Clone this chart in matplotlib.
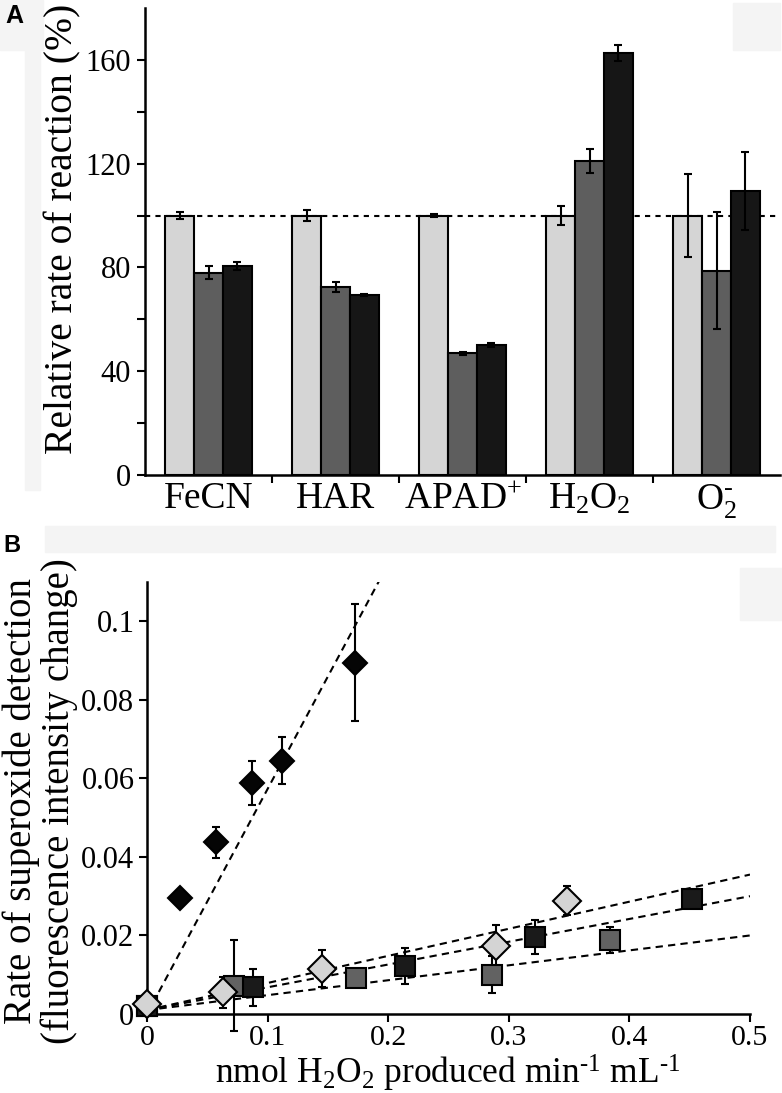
import numpy as np
import matplotlib.pyplot as plt
from matplotlib.patches import Rectangle

plt.rcParams['font.family'] = ['Liberation Serif', 'DejaVu Serif']
plt.rcParams['mathtext.fontset'] = 'custom'
plt.rcParams['mathtext.rm'] = 'Liberation Serif'
plt.rcParams['mathtext.it'] = 'Liberation Serif:italic'
plt.rcParams['mathtext.default'] = 'regular'

# ---- panel A data (relative rate, %) ----
substrates = ['FeCN', 'HAR', r'APAD$^{+}$', r'H$_2$O$_2$', r'O$_2^{\text{-}}$']
rate_light = [100, 100, 100, 100, 100]
err_light = [1.3, 2.0, 0.5, 3.7, 16.0]
rate_dark = [78.0, 72.6, 46.9, 121.1, 78.8]
err_dark = [2.6, 1.9, 0.5, 4.7, 22.5]
rate_black = [80.7, 69.3, 50.1, 162.6, 109.6]
err_black = [1.5, 0.4, 0.6, 3.0, 15.0]

# ---- panel B data ----
diam_black_x = [0.027, 0.057, 0.087, 0.112, 0.1726]
diam_black_y = [0.0295, 0.0437, 0.0589, 0.0645, 0.0895]
diam_black_err = [0.0, 0.004, 0.0056, 0.006, 0.015]

diam_light_x = [0.0, 0.063, 0.145, 0.289, 0.3485]
diam_light_y = [0.0025, 0.0055, 0.0115, 0.0172, 0.0289]
diam_light_err = [0.001, 0.004, 0.0047, 0.0055, 0.0038]

sq_gray_x = [0.0, 0.072, 0.1737, 0.2863, 0.384]
sq_gray_y = [0.002, 0.0072, 0.0092, 0.0100, 0.0189]
sq_gray_err = [0.001, 0.0116, 0.001, 0.0047, 0.0033]

sq_black_x = [0.0, 0.0877, 0.214, 0.322, 0.452]
sq_black_y = [0.002, 0.0068, 0.0122, 0.0197, 0.0293]
sq_black_err = [0.001, 0.0047, 0.0045, 0.0043, 0.0015]

# linear trend lines: black diamonds, light diamonds, black squares, gray squares
fit_slope = [0.573, 0.069, 0.058, 0.038]
fit_icept = [0.0, 0.001, 0.001, 0.001]
fit_xmax = [0.2, 0.5, 0.5, 0.5]

W, H = 782, 1093
fig = plt.figure(figsize=(W / 100, H / 100), dpi=100)

# faint grey patches from the scanned figure
for (x0, y0, x1, y1) in [(0, 0, 43, 50), (25, 50, 40, 490), (733, 3, 780, 50),
                         (45, 526, 775, 552), (740, 568, 782, 620)]:
    fig.patches.append(Rectangle((x0 / W, 1 - y1 / H), (x1 - x0) / W, (y1 - y0) / H,
                                 transform=fig.transFigure, color='#f4f4f4', zorder=0))

# ---------------- panel A ----------------
axA = fig.add_axes([145 / W, 1 - 475 / H, (780 - 145) / W, (475 - 8) / H])
x = np.arange(len(substrates)) + 0.5
bw = 0.226
ek = dict(ecolor='black', capsize=2.8, error_kw=dict(elinewidth=1.5, capthick=1.5))
axA.bar(x - bw, rate_light, bw, yerr=err_light, color='#d5d5d5', edgecolor='black', linewidth=1.5, **ek)
axA.bar(x, rate_dark, bw, yerr=err_dark, color='#5e5e5e', edgecolor='black', linewidth=1.5, **ek)
axA.bar(x + bw, rate_black, bw, yerr=err_black, color='#161616', edgecolor='black', linewidth=1.5, **ek)
axA.axhline(100, color='black', linestyle=(0, (2.5, 2.5)), linewidth=1.5, zorder=0.5)

axA.set_xlim(0, 5)
axA.set_ylim(0, 180)
axA.spines['top'].set_visible(False)
axA.spines['right'].set_visible(False)
axA.spines['left'].set_linewidth(1.8)
axA.spines['bottom'].set_linewidth(1.8)
axA.set_yticks(range(0, 161, 20))
axA.set_yticklabels([str(v) if v % 40 == 0 else '' for v in range(0, 161, 20)])
axA.set_xticks([1, 2, 3, 4])
axA.set_xticklabels([])
axA.set_xticks(x, minor=True)
axA.set_xticklabels(substrates, minor=True, fontsize=27)
axA.tick_params(axis='x', which='minor', length=0, pad=5)
axA.tick_params(axis='x', which='major', length=6, width=1.5, direction='out')
axA.tick_params(axis='y', length=6, width=1.5, direction='out', labelsize=22, pad=4)
fig.text(63 / W, 1 - 229 / H, 'Relative rate of reaction (%)', rotation=90,
         ha='center', va='center', fontsize=28.5)
fig.text(5 / W, 1 - 16 / H, 'A', family=['Liberation Sans'], fontweight='bold',
         fontsize=18, ha='left', va='center')

# ---------------- panel B ----------------
axB = fig.add_axes([147 / W, 1 - 1014 / H, (750 - 147) / W, (1014 - 582) / H])
xs = np.linspace(0, 0.5, 200)
for s, b, xm in zip(fit_slope, fit_icept, fit_xmax):
    xx = xs[xs <= xm]
    axB.plot(xx, s * xx + b, color='black', linestyle=(0, (3.5, 2.5)), linewidth=1.5, zorder=1)

eb = dict(fmt='none', ecolor='black', elinewidth=1.5, capsize=3, capthick=1.5, clip_on=False, zorder=2)
series = [
    (sq_gray_x, sq_gray_y, sq_gray_err, 's', 15, '#626262'),
    (sq_black_x, sq_black_y, sq_black_err, 's', 15, '#1a1a1a'),
    (diam_light_x, diam_light_y, diam_light_err, 'D', 14, '#d4d4d4'),
    (diam_black_x, diam_black_y, diam_black_err, 'D', 12.5, '#050505'),
]
for i, (sx, sy, se, m, ms, c) in enumerate(series):
    axB.errorbar(sx, sy, yerr=se, **eb)
    axB.plot(sx, sy, linestyle='none', marker=m, markersize=ms, markerfacecolor=c,
             markeredgecolor='black', markeredgewidth=1.5, clip_on=False, zorder=3 + i)

axB.set_xlim(0, 0.5)
axB.set_ylim(0, 0.11)
axB.spines['top'].set_visible(False)
axB.spines['right'].set_visible(False)
axB.spines['left'].set_linewidth(1.8)
axB.spines['bottom'].set_linewidth(1.8)
axB.set_xticks([0, 0.1, 0.2, 0.3, 0.4, 0.5])
axB.set_xticklabels(['0', '0.1', '0.2', '0.3', '0.4', '0.5'])
axB.set_yticks([0, 0.02, 0.04, 0.06, 0.08, 0.1])
axB.set_yticklabels(['0', '0.02', '0.04', '0.06', '0.08', '0.1'])
axB.tick_params(length=6, width=1.5, direction='out', labelsize=22)
axB.tick_params(axis='y', pad=3)
axB.tick_params(axis='x', pad=2, labelsize=21.5)
fig.text(40 / W, 1 - 801 / H, 'Rate of superoxide detection\n(fluorescence intensity change)',
         rotation=90, ha='center', va='center', fontsize=28, linespacing=1.0)
fig.text(448 / W, 1 - 1073 / H, r'nmol H$_2$O$_2$ produced min$^{\text{-1}}$ mL$^{\text{-1}}$',
         ha='center', va='center', fontsize=25.5)
fig.text(3 / W, 1 - 546 / H, 'B', family=['Liberation Sans'], fontweight='bold',
         fontsize=17, ha='left', va='center')

fig.savefig('out.png', dpi=100)
